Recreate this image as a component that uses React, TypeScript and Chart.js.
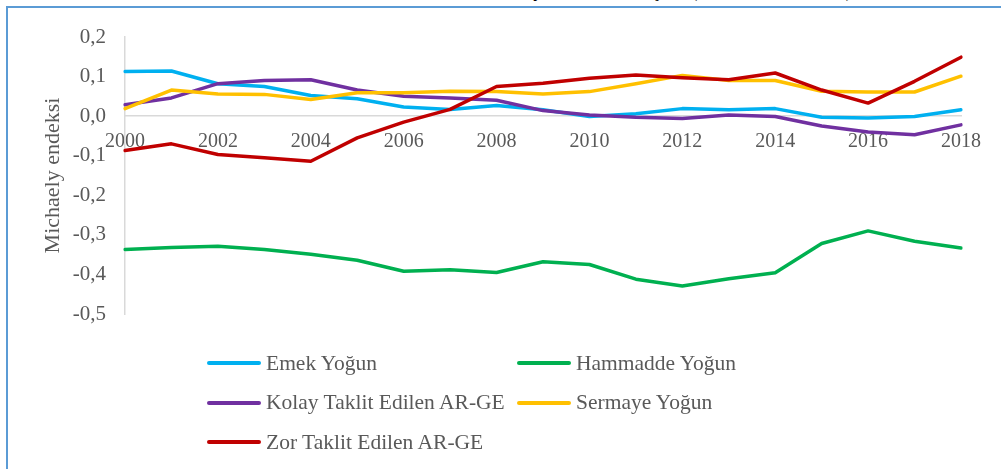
import React, { useEffect, useRef } from "react";
import { Chart, registerables } from "chart.js";

Chart.register(...registerables);

const years = ["2000","2001","2002","2003","2004","2005","2006","2007","2008","2009","2010","2011","2012","2013","2014","2015","2016","2017","2018"];

const seriesNames = ["Emek Yoğun", "Hammadde Yoğun", "Kolay Taklit Edilen AR-GE", "Sermaye Yoğun", "Zor Taklit Edilen AR-GE"];
const seriesColors = ["#00b0f0", "#00b050", "#7030a0", "#ffc000", "#c00000"];

const emek = [0.113, 0.114, 0.082, 0.075, 0.052, 0.044, 0.023, 0.017, 0.027, 0.016, -0.001, 0.006, 0.019, 0.016, 0.019, -0.003, -0.005, -0.001, 0.016];
const hammadde = [-0.337, -0.332, -0.329, -0.337, -0.349, -0.364, -0.392, -0.388, -0.395, -0.368, -0.375, -0.412, -0.429, -0.411, -0.396, -0.322, -0.290, -0.316, -0.333];
const kolay = [0.029, 0.046, 0.082, 0.090, 0.092, 0.066, 0.050, 0.046, 0.040, 0.014, 0.003, -0.003, -0.006, 0.003, -0.001, -0.025, -0.040, -0.047, -0.022];
const sermaye = [0.019, 0.066, 0.056, 0.055, 0.042, 0.059, 0.059, 0.063, 0.062, 0.056, 0.062, 0.082, 0.103, 0.090, 0.090, 0.063, 0.061, 0.061, 0.101];
const zor = [-0.087, -0.070, -0.097, -0.105, -0.114, -0.055, -0.015, 0.017, 0.075, 0.083, 0.096, 0.104, 0.097, 0.092, 0.109, 0.066, 0.033, 0.088, 0.149];

const seriesValues = [emek, hammadde, kolay, sermaye, zor];

const yAxisTitle = "Michaely endeksi";
const chartTitle = "Sektörlere Göre Michaely Endeksi Sonuçları (2000-2018 Dönemi)";

const FONT = "'Liberation Serif', 'Times New Roman', serif";
const GRAY = "#595959";

export default function App() {
  const canvasRef = useRef<HTMLCanvasElement | null>(null);

  useEffect(() => {
    const canvas = canvasRef.current;
    if (!canvas) return;
    const datasets = seriesNames.map((name, i) => ({
      label: name,
      data: seriesValues[i],
      borderColor: seriesColors[i],
      backgroundColor: seriesColors[i],
      borderWidth: 3.5,
      pointRadius: 0,
      tension: 0,
      fill: false,
      borderJoinStyle: "round" as const,
      borderCapStyle: "round" as const,
      order: seriesNames.length - i,
    }));
    const chart = new Chart(canvas, {
      type: "line",
      data: { labels: years, datasets },
      options: {
        responsive: false,
        animation: false,
        layout: { padding: { left: 40, right: 40, top: 37, bottom: 155 } },
        plugins: {
          legend: { display: false },
          title: { display: false },
          tooltip: { enabled: false },
        },
        scales: {
          x: {
            position: { y: 0 } as any,
            offset: false,
            grid: { display: false },
            border: { display: true, color: "#d9d9d9", width: 1.5 },
            ticks: {
              autoSkip: false,
              maxRotation: 0,
              minRotation: 0,
              padding: 6,
              color: GRAY,
              font: { family: FONT, size: 20 },
              callback: (_v: any, i: number) => (i % 2 === 0 ? years[i] : ""),
            },
          },
          y: {
            min: -0.5,
            max: 0.2,
            afterFit: (s: any) => {
              s.width = 85;
            },
            grid: { display: false },
            border: { display: true, color: "#d9d9d9", width: 1.5 },
            ticks: {
              stepSize: 0.1,
              padding: 11,
              color: GRAY,
              font: { family: FONT, size: 21 },
              callback: (v: any) => {
                const n = Math.abs(Number(v)) < 1e-9 ? 0 : Number(v);
                return n.toFixed(1).replace(".", ",");
              },
            },
            title: {
              display: true,
              text: yAxisTitle,
              color: GRAY,
              padding: 0,
              font: { family: FONT, size: 22 },
            },
          },
        },
      },
    });
    return () => chart.destroy();
  }, []);

  return (
    <div style={{ position: "absolute", left: 0, top: 0, width: 1001, height: 469, overflow: "hidden", background: "#fff" }}>
      <div style={{ position: "absolute", left: 0, top: 0, width: 1001, height: 6, overflow: "hidden" }}>
        <div
          style={{
            position: "absolute",
            right: 149,
            top: -19,
            whiteSpace: "nowrap",
            fontFamily: FONT,
            fontSize: 19,
            lineHeight: "19px",
            color: "#000",
          }}
        >
          {chartTitle}
        </div>
      </div>
      <div
        style={{
          position: "absolute",
          left: 6,
          top: 6,
          width: 1010,
          height: 480,
          borderLeft: "2px solid #5b9bd5",
          borderTop: "2px solid #5b9bd5",
          boxSizing: "border-box",
        }}
      />
      <canvas ref={canvasRef} width={1001} height={469} style={{ position: "absolute", left: 0, top: 0, width: 1001, height: 469 }} />
      {seriesNames.map((name, i) => {
        const col = i % 2;
        const row = Math.floor(i / 2);
        return (
          <div
            key={name}
            style={{
              position: "absolute",
              left: 207 + col * 310,
              top: 363 + row * 39.5 - 15,
              height: 30,
              display: "flex",
              alignItems: "center",
              whiteSpace: "nowrap",
              fontFamily: FONT,
              fontSize: 21.5,
              color: GRAY,
            }}
          >
            <span style={{ display: "inline-block", width: 54, height: 4, borderRadius: 2, background: seriesColors[i], marginRight: 5 }} />
            <span>{name}</span>
          </div>
        );
      })}
    </div>
  );
}
